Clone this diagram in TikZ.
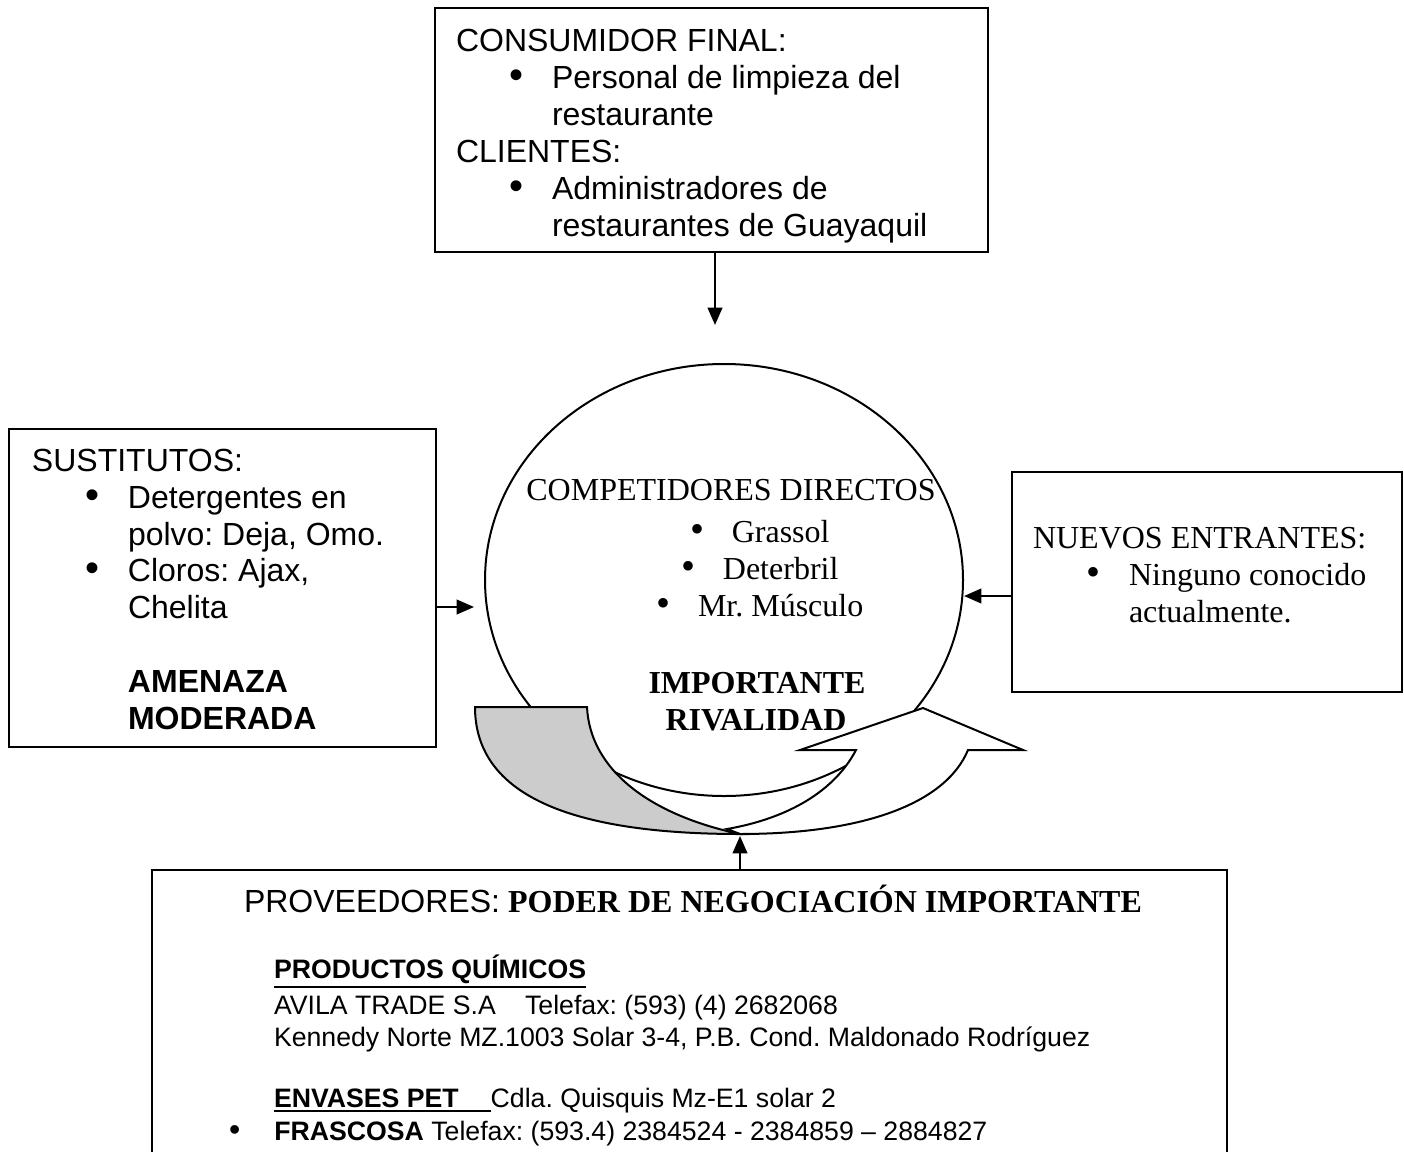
\documentclass[tikz,border=0pt]{standalone}
\usepackage{fontspec}
\setmainfont{Liberation Serif}
\newfontfamily\arialfont{Liberation Sans}
\usetikzlibrary{arrows.meta,shapes.geometric,fit}
\frenchspacing

\newcommand{\dotmark}{{\fontsize{15}{15}\selectfont •}}
\newcommand{\bul}{\hspace*{20pt}\makebox[16pt][l]{\dotmark}}
\newcommand{\cont}{\hspace*{36pt}}

\tikzset{
  box/.style={draw, line width=0.75pt, inner sep=0pt},
  txt/.style={inner sep=0pt, anchor=base west, align=left},
  arial/.style={font=\arialfont\fontsize{12}{13.8}\selectfont},
  arialsmall/.style={font=\arialfont\fontsize{10}{12}\selectfont},
  times/.style={font=\fontsize{12}{13.8}\selectfont},
  timesbold/.style={font=\bfseries\fontsize{12}{13.8}\selectfont},
  arr/.style={-{Triangle[length=6.5pt,width=5.5pt]}, line width=0.75pt},
}

\begin{document}
\begin{tikzpicture}[x=0.375pt, y=-0.375pt, line width=0.75pt]

\def\RIBBONGRAY{gray!40}
	\clip (0,0) rectangle (1404,1151);
	\useasboundingbox (0,0) rectangle (1404,1151);

	% cajas
	\node[box, fit={(435,8) (988,252)}] (cliBox) {};
	\node[box, fit={(9,429) (436,747)}] (sustBox) {};
	\node[box, fit={(1012,472) (1402,692)}] (nuevBox) {};
	\node[box, fit={(152,870) (1227,1180)}] (provBox) {};

	% rivalidad
	\node[ellipse, draw, minimum width=179.25pt, minimum height=162pt, inner sep=0pt] (rivCirc) at (724,580) {};
	\filldraw[fill=white] (740,834) .. controls (860,834) and (945,805) .. (968,750) -- (1023,750) -- (923,708) -- (800,750) -- (856,750) .. controls (835,790) and (790,818) .. (727,829) -- cycle;
	\filldraw[fill=\RIBBONGRAY] (475,707) -- (587,707) .. controls (590,770) and (650,815) .. (740,834) .. controls (560,834) and (475,790) .. (475,707) -- cycle;

	% textos (base = ultima linea)
	\node[txt, arial] (cliText) at (455,236) {CONSUMIDOR FINAL:\\ \bul Personal de limpieza del\\ \cont restaurante\\ CLIENTES:\\ \bul Administradores de\\ \cont restaurantes de Guayaquil};
	\node[txt, arial] (sustText) at (31,729) {SUSTITUTOS:\\ \bul Detergentes en\\ \cont polvo: Deja, Omo.\\ \bul Cloros: Ajax,\\ \cont Chelita\\[13.8pt] \cont\textbf{AMENAZA}\\ \cont\textbf{MODERADA}};
	\node[txt, times] (nuevText) at (1032,622) {NUEVOS ENTRANTES:\\ \bul Ninguno conocido\\ \cont actualmente.};

	\node[inner sep=0pt, anchor=base, times] (compTitle) at (731,500) {COMPETIDORES DIRECTOS};
	\node[inner sep=0pt, anchor=base, align=center, times] (compList) at (760,616) {\makebox[15.5pt][l]{\dotmark}Grassol\\ \makebox[15.5pt][l]{\dotmark}Deterbril\\ \makebox[15.5pt][l]{\dotmark}Mr. Músculo};
	\node[inner sep=0pt, anchor=base, timesbold] (rivA) at (757,693) {IMPORTANTE};
	\node[inner sep=0pt, anchor=base, timesbold] (rivB) at (756,730) {RIVALIDAD};

	\node[txt, times] (provTitle) at (243,912) {{\arialfont PROVEEDORES:} \textbf{PODER DE NEGOCIACIÓN IMPORTANTE}};
	\node[txt, arialsmall] (quimHead) at (273,978) {\underline{\textbf{PRODUCTOS QUÍMICOS}}};
	\node[txt, arialsmall] (avilaText) at (273,1046) {AVILA TRADE S.A\hspace{11pt}Telefax: (593) (4) 2682068\\ Kennedy Norte MZ.1003 Solar 3-4, P.B. Cond. Maldonado Rodríguez};
	\node[txt, arialsmall] (petText) at (273,1107) {\underline{\textbf{ENVASES PET}\hspace*{12pt}}Cdla. Quisquis Mz-E1 solar 2};
	\node[txt, arialsmall] (frasText) at (228,1140) {\makebox[17pt][l]{{\fontsize{12}{12}\selectfont •}}\textbf{FRASCOSA} Telefax: (593.4) 2384524 - 2384859 – 2884827};

	% flechas
	\coordinate (tipTop) at (715,325);
	\coordinate (tipLeft) at (474,607);
	\coordinate (tipRight) at (964,596);
	\coordinate (tipBot) at (740,836);
	\draw[arr] (cliBox.south -| tipTop) -- (tipTop);
	\draw[arr] (sustBox.east |- tipLeft) -- (tipLeft);
	\draw[arr] (nuevBox.west |- tipRight) -- (tipRight);
	\draw[arr] (provBox.north -| tipBot) -- (tipBot);

\end{tikzpicture}
\end{document}
